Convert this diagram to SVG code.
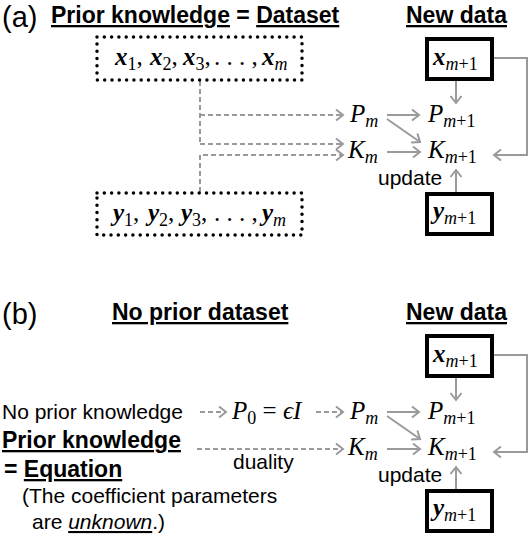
<svg xmlns="http://www.w3.org/2000/svg" width="530" height="538" viewBox="0 0 530 538">
<style>
  .h { font-family: "Liberation Sans", Arial, sans-serif; font-weight: bold; font-size: 23px; fill: #000; }
  .t { font-family: "Liberation Sans", Arial, sans-serif; font-size: 21px; fill: #000; }
  .lbl { font-family: "Liberation Sans", Arial, sans-serif; font-size: 29px; fill: #000; }
  .u { text-decoration: underline; }
  .m { font-family: "Liberation Serif", "Times New Roman", serif; font-size: 25px; fill: #000; }
  .mi { font-style: italic; }
  .mb { font-style: italic; font-weight: bold; }
  .s { font-size: 18px; }
  .dot { fill: none; stroke: #000; stroke-width: 3.5; stroke-dasharray: 0 7.3; stroke-linecap: round; }
  .box { fill: #fff; stroke: #000; stroke-width: 4; }
  .ar { fill: none; stroke: #9a9a9a; stroke-width: 2; marker-end: url(#ah); }
  .ln { fill: none; stroke: #9a9a9a; stroke-width: 2; }
  .da { fill: none; stroke: #9a9a9a; stroke-width: 2; stroke-dasharray: 5 3; }
  .dae { fill: none; stroke: #9a9a9a; stroke-width: 2; stroke-dasharray: 5 3; marker-end: url(#ah); }
</style>
<defs>
  <marker id="ah" viewBox="-9 -7 11 14" refX="0" refY="0" markerWidth="11" markerHeight="14" markerUnits="userSpaceOnUse" orient="auto">
    <path d="M-7,-5.5 L0,0 L-7,5.5" fill="none" stroke="#9a9a9a" stroke-width="2" stroke-dasharray="none"/>
  </marker>
</defs>

<!-- Panel labels and headings -->
<g id="panel-a-labels">
  <text class="lbl" x="2" y="27">(a)</text>
  <text class="h" x="51" y="23"><tspan class="u">Prior knowledge</tspan> = <tspan class="u">Dataset</tspan></text>
  <text class="h" x="406" y="23"><tspan class="u">New data</tspan></text>
</g>
<g id="panel-b-labels">
  <text class="lbl" x="2" y="324">(b)</text>
  <text class="h" x="112" y="320"><tspan class="u">No prior dataset</tspan></text>
  <text class="h" x="406" y="320"><tspan class="u">New data</tspan></text>
</g>

<!-- Connectors -->
<g id="connectors">
  <!-- panel a dashed -->
  <path class="da" d="M200,81 V144"/>
  <path class="dae" d="M200,115 H343"/>
  <path class="dae" d="M200,144 H343"/>
  <path class="dae" d="M200,192 V155 H343"/>
  <!-- panel a solid -->
  <path class="ar" d="M387,115 H419"/>
  <path class="ar" d="M387,119 L420,142"/>
  <path class="ar" d="M387,152 H420"/>
  <path class="ar" d="M456,81 V103"/>
  <path class="ar" d="M456,192 V170"/>
  <path class="ar" d="M494,58 H527 V155 H494"/>
  <!-- panel b dashed -->
  <path class="dae" d="M200,412 H226"/>
  <path class="dae" d="M316,412 H343"/>
  <path class="dae" d="M197,449 H343"/>
  <!-- panel b solid -->
  <path class="ar" d="M387,412 H419"/>
  <path class="ar" d="M387,416 L420,439"/>
  <path class="ar" d="M387,449 H420"/>
  <path class="ar" d="M456,378 V400"/>
  <path class="ar" d="M456,489 V467"/>
  <path class="ar" d="M494,355 H527 V452 H494"/>
</g>

<!-- Panel a nodes -->
<g id="dataset-x">
  <rect class="dot" x="97" y="37" width="205" height="43"/>
  <text class="m" y="65"><tspan class="mb" x="115">x</tspan><tspan class="s" dy="5">1</tspan><tspan dy="-5">,</tspan><tspan class="mb" x="150">x</tspan><tspan class="s" dy="5">2</tspan><tspan dy="-5">,</tspan><tspan class="mb" x="183">x</tspan><tspan class="s" dy="5">3</tspan><tspan dy="-5">,</tspan><tspan x="214">. . . ,</tspan><tspan class="mb" x="262">x</tspan><tspan class="s mi" dy="5">m</tspan></text>
</g>
<g id="dataset-y">
  <rect class="dot" x="97" y="193" width="205" height="42"/>
  <text class="m" y="221"><tspan class="mb" x="113">y</tspan><tspan class="s" dy="5">1</tspan><tspan dy="-5">,</tspan><tspan class="mb" x="148">y</tspan><tspan class="s" dy="5">2</tspan><tspan dy="-5">,</tspan><tspan class="mb" x="181">y</tspan><tspan class="s" dy="5">3</tspan><tspan dy="-5">,</tspan><tspan x="214">. . . ,</tspan><tspan class="mb" x="262">y</tspan><tspan class="s mi" dy="5">m</tspan></text>
</g>
<g id="new-x-a">
  <rect class="box" x="427" y="39" width="65" height="40"/>
  <text class="m" x="433" y="65"><tspan class="mb">x</tspan><tspan class="s" dy="5"><tspan class="mi">m</tspan>+1</tspan></text>
</g>
<g id="new-y-a">
  <rect class="box" x="427" y="194" width="65" height="40"/>
  <text class="m" x="433" y="219"><tspan class="mb">y</tspan><tspan class="s" dy="5"><tspan class="mi">m</tspan>+1</tspan></text>
</g>
<g id="Pm-a"><text class="m" x="350" y="122"><tspan class="mi">P</tspan><tspan class="s mi" dy="5">m</tspan></text></g>
<g id="Pm1-a"><text class="m" x="428" y="122"><tspan class="mi">P</tspan><tspan class="s" dy="5"><tspan class="mi">m</tspan>+1</tspan></text></g>
<g id="Km-a"><text class="m" x="348" y="158"><tspan class="mi">K</tspan><tspan class="s mi" dy="5">m</tspan></text></g>
<g id="Km1-a"><text class="m" x="428" y="158"><tspan class="mi">K</tspan><tspan class="s" dy="5"><tspan class="mi">m</tspan>+1</tspan></text></g>
<g id="update-a"><text class="t" x="378" y="185">update</text></g>

<!-- Panel b nodes -->
<g id="no-prior-knowledge"><text class="t" x="2" y="419">No prior knowledge</text></g>
<g id="P0"><text class="m" x="232" y="419"><tspan class="mi">P</tspan><tspan class="s" dy="5">0</tspan><tspan dy="-5"> = </tspan><tspan class="mi">ϵI</tspan></text></g>
<g id="prior-knowledge-eq">
  <text class="h" x="2" y="448"><tspan class="u">Prior knowledge</tspan></text>
  <text class="h" x="4" y="477">= <tspan class="u">Equation</tspan></text>
  <text class="t" x="22" y="503">(The coefficient parameters</text>
  <text class="t" x="32" y="529">are <tspan class="u" font-style="italic">unknown</tspan>.)</text>
</g>
<g id="duality"><text class="t" x="233" y="469">duality</text></g>
<g id="new-x-b">
  <rect class="box" x="427" y="336" width="65" height="40"/>
  <text class="m" x="433" y="362"><tspan class="mb">x</tspan><tspan class="s" dy="5"><tspan class="mi">m</tspan>+1</tspan></text>
</g>
<g id="new-y-b">
  <rect class="box" x="427" y="491" width="65" height="40"/>
  <text class="m" x="433" y="516"><tspan class="mb">y</tspan><tspan class="s" dy="5"><tspan class="mi">m</tspan>+1</tspan></text>
</g>
<g id="Pm-b"><text class="m" x="350" y="419"><tspan class="mi">P</tspan><tspan class="s mi" dy="5">m</tspan></text></g>
<g id="Pm1-b"><text class="m" x="428" y="419"><tspan class="mi">P</tspan><tspan class="s" dy="5"><tspan class="mi">m</tspan>+1</tspan></text></g>
<g id="Km-b"><text class="m" x="348" y="455"><tspan class="mi">K</tspan><tspan class="s mi" dy="5">m</tspan></text></g>
<g id="Km1-b"><text class="m" x="428" y="455"><tspan class="mi">K</tspan><tspan class="s" dy="5"><tspan class="mi">m</tspan>+1</tspan></text></g>
<g id="update-b"><text class="t" x="378" y="482">update</text></g>
</svg>
